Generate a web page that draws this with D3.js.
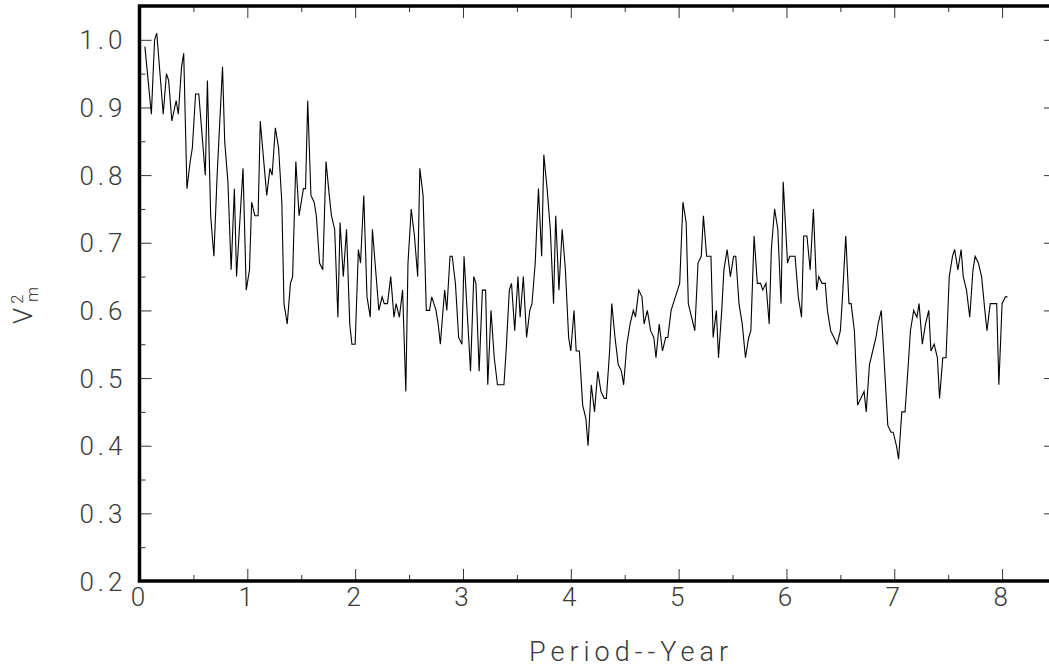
<!DOCTYPE html>
<html lang="en">
    <head>
        <meta charset="utf-8">
        <title>V2m by Period</title>
        <script src="https://d3js.org/d3.v7.min.js"></script>
        <style type="text/css">
        body { margin: 0; background: #fff; }

        .tick text {
            font-family: Roboto, "DejaVu Sans", sans-serif;
            font-weight: 300;
            font-size: 26px;
            letter-spacing: 4px;
            fill: #3a3a3a;
        }

        .tick line {
            stroke: #333;
            stroke-width: 1;
        }

        .domain { display: none; }

        .label {
            font-family: Roboto, "DejaVu Sans", sans-serif;
            font-weight: 300;
            fill: #3a3a3a;
        }
        </style>
    </head>
    <body>
    <div id="vis"></div>

    <script type="text/javascript">

        // period in years
        const years = [
            0.05, 0.11, 0.14, 0.16, 0.22, 0.25, 0.27, 0.30, 0.34, 0.36, 0.39, 0.41, 0.44, 0.47, 0.49,
            0.52, 0.55, 0.57, 0.61, 0.63, 0.66, 0.69, 0.72, 0.77, 0.79, 0.82, 0.85, 0.88, 0.90, 0.96,
            0.99, 1.02, 1.04, 1.07, 1.10, 1.12, 1.18, 1.21, 1.23, 1.26, 1.29, 1.32, 1.34, 1.37, 1.40,
            1.42, 1.45, 1.48, 1.52, 1.54, 1.56, 1.59, 1.62, 1.64, 1.67, 1.70, 1.73, 1.76, 1.78, 1.81,
            1.84, 1.86, 1.89, 1.92, 1.95, 1.97, 2.00, 2.03, 2.05, 2.08, 2.11, 2.14, 2.16, 2.22, 2.25,
            2.27, 2.30, 2.33, 2.36, 2.38, 2.41, 2.44, 2.47, 2.49, 2.52, 2.55, 2.58, 2.60, 2.63, 2.66,
            2.69, 2.71, 2.75, 2.77, 2.79, 2.83, 2.85, 2.88, 2.90, 2.93, 2.96, 2.99, 3.01, 3.07, 3.10,
            3.12, 3.15, 3.18, 3.21, 3.23, 3.26, 3.29, 3.32, 3.35, 3.38, 3.40, 3.43, 3.45, 3.48, 3.51,
            3.53, 3.56, 3.59, 3.62, 3.64, 3.67, 3.70, 3.73, 3.75, 3.78, 3.81, 3.84, 3.86, 3.89, 3.92,
            3.95, 3.98, 4.00, 4.03, 4.05, 4.08, 4.11, 4.14, 4.16, 4.19, 4.22, 4.25, 4.28, 4.31, 4.33,
            4.36, 4.38, 4.41, 4.44, 4.47, 4.49, 4.52, 4.55, 4.58, 4.60, 4.63, 4.66, 4.68, 4.71, 4.74,
            4.77, 4.79, 4.82, 4.85, 4.88, 4.90, 4.93, 4.95, 4.97, 5.01, 5.04, 5.07, 5.09, 5.12, 5.15,
            5.18, 5.21, 5.23, 5.26, 5.30, 5.32, 5.35, 5.37, 5.40, 5.42, 5.45, 5.48, 5.51, 5.53, 5.56,
            5.59, 5.62, 5.65, 5.67, 5.70, 5.73, 5.76, 5.78, 5.81, 5.84, 5.86, 5.89, 5.92, 5.95, 5.97,
            6.01, 6.03, 6.08, 6.11, 6.14, 6.16, 6.19, 6.22, 6.25, 6.28, 6.30, 6.33, 6.36, 6.38, 6.41,
            6.44, 6.47, 6.50, 6.52, 6.55, 6.58, 6.60, 6.63, 6.66, 6.69, 6.72, 6.74, 6.77, 6.80, 6.83,
            6.85, 6.88, 6.94, 6.97, 6.99, 7.02, 7.04, 7.07, 7.10, 7.13, 7.15, 7.18, 7.21, 7.23, 7.26,
            7.29, 7.32, 7.34, 7.37, 7.40, 7.42, 7.45, 7.48, 7.51, 7.54, 7.56, 7.59, 7.62, 7.64, 7.67,
            7.70, 7.73, 7.75, 7.78, 7.81, 7.84, 7.86, 7.89, 7.92, 7.95, 7.97, 8.00, 8.03, 8.05
        ];

        // V^2_m values
        const v2m = [
            0.99, 0.89, 1.00, 1.01, 0.89, 0.95, 0.94, 0.88, 0.91, 0.89, 0.96, 0.98, 0.78, 0.82, 0.84,
            0.92, 0.92, 0.88, 0.80, 0.94, 0.74, 0.68, 0.80, 0.96, 0.85, 0.79, 0.66, 0.78, 0.65, 0.81,
            0.63, 0.66, 0.76, 0.74, 0.74, 0.88, 0.77, 0.81, 0.80, 0.87, 0.84, 0.76, 0.61, 0.58, 0.64,
            0.65, 0.82, 0.74, 0.78, 0.78, 0.91, 0.77, 0.76, 0.74, 0.67, 0.66, 0.82, 0.77, 0.74, 0.72,
            0.59, 0.73, 0.65, 0.72, 0.58, 0.55, 0.55, 0.69, 0.67, 0.77, 0.62, 0.59, 0.72, 0.60, 0.62,
            0.61, 0.61, 0.65, 0.59, 0.61, 0.59, 0.63, 0.48, 0.67, 0.75, 0.71, 0.65, 0.81, 0.77, 0.60,
            0.60, 0.62, 0.60, 0.58, 0.55, 0.63, 0.60, 0.68, 0.68, 0.64, 0.56, 0.55, 0.68, 0.51, 0.65,
            0.64, 0.51, 0.63, 0.63, 0.49, 0.60, 0.53, 0.49, 0.49, 0.49, 0.54, 0.63, 0.64, 0.57, 0.65,
            0.59, 0.65, 0.56, 0.60, 0.61, 0.67, 0.78, 0.68, 0.83, 0.78, 0.72, 0.61, 0.74, 0.63, 0.72,
            0.66, 0.56, 0.54, 0.60, 0.54, 0.54, 0.46, 0.44, 0.40, 0.49, 0.45, 0.51, 0.48, 0.47, 0.47,
            0.54, 0.61, 0.56, 0.52, 0.51, 0.49, 0.55, 0.58, 0.60, 0.59, 0.63, 0.62, 0.58, 0.60, 0.57,
            0.56, 0.53, 0.58, 0.54, 0.56, 0.56, 0.60, 0.61, 0.62, 0.64, 0.76, 0.73, 0.61, 0.59, 0.57,
            0.67, 0.68, 0.74, 0.68, 0.68, 0.56, 0.60, 0.53, 0.60, 0.66, 0.69, 0.65, 0.68, 0.68, 0.61,
            0.58, 0.53, 0.56, 0.57, 0.71, 0.64, 0.64, 0.63, 0.64, 0.58, 0.69, 0.75, 0.72, 0.61, 0.79,
            0.67, 0.68, 0.68, 0.62, 0.59, 0.71, 0.71, 0.66, 0.75, 0.63, 0.65, 0.64, 0.64, 0.60, 0.57,
            0.56, 0.55, 0.57, 0.62, 0.71, 0.61, 0.61, 0.57, 0.46, 0.47, 0.48, 0.45, 0.52, 0.54, 0.56,
            0.58, 0.60, 0.43, 0.42, 0.42, 0.40, 0.38, 0.45, 0.45, 0.52, 0.57, 0.60, 0.59, 0.61, 0.55,
            0.58, 0.60, 0.54, 0.55, 0.53, 0.47, 0.53, 0.53, 0.65, 0.68, 0.69, 0.66, 0.69, 0.65, 0.63,
            0.59, 0.66, 0.68, 0.67, 0.65, 0.60, 0.57, 0.61, 0.61, 0.61, 0.49, 0.61, 0.62, 0.62
        ];

        const xTicks = [0, 1, 2, 3, 4, 5, 6, 7, 8];
        const xMinorTicks = [0.5, 1.5, 2.5, 3.5, 4.5, 5.5, 6.5, 7.5, 8.5];
        const yTicks = [0.2, 0.3, 0.4, 0.5, 0.6, 0.7, 0.8, 0.9, 1.0];
        const yMinorTicks = [0.25, 0.35, 0.45, 0.55, 0.65, 0.75, 0.85, 0.95];

        const width = 1049;
        const height = 671;
        const plotLeft = 139.5;
        const plotRight = 1056;   // right frame sits just past the window edge
        const plotTop = 6;
        const plotBottom = 581;

        const dataset = years.map((t, i) => ({ t: t, v: v2m[i] }));

        const xScale = d3.scaleLinear()
                         .domain([0, 8.5])
                         .range([plotLeft, plotRight]);

        const yScale = d3.scaleLinear()
                         .domain([0.2, 1.05])
                         .range([plotBottom, plotTop]);

        const svg = d3.select("#vis")
                      .append("svg")
                      .attr("width", width)
                      .attr("height", height);

        // minor ticks
        svg.append("g")
           .attr("transform", "translate(0," + plotBottom + ")")
           .call(d3.axisBottom(xScale).tickValues(xMinorTicks).tickSize(-6).tickSizeOuter(0).tickFormat(""));
        svg.append("g")
           .attr("transform", "translate(0," + plotTop + ")")
           .call(d3.axisTop(xScale).tickValues(xMinorTicks).tickSize(-6).tickSizeOuter(0).tickFormat(""));
        svg.append("g")
           .attr("transform", "translate(" + plotLeft + ",0)")
           .call(d3.axisLeft(yScale).tickValues(yMinorTicks).tickSize(-6).tickSizeOuter(0).tickFormat(""));
        svg.append("g")
           .attr("transform", "translate(" + plotRight + ",0)")
           .call(d3.axisRight(yScale).tickValues(yMinorTicks).tickSize(-6).tickSizeOuter(0).tickFormat(""));

        // major ticks + labels
        svg.append("g")
           .attr("transform", "translate(0," + plotBottom + ")")
           .call(d3.axisBottom(xScale).tickValues(xTicks).tickSize(-12).tickSizeOuter(0)
                   .tickPadding(16).tickFormat(d3.format("d")));
        svg.append("g")
           .attr("transform", "translate(0," + plotTop + ")")
           .call(d3.axisTop(xScale).tickValues(xTicks).tickSize(-12).tickSizeOuter(0).tickFormat(""));
        svg.append("g")
           .attr("transform", "translate(" + plotLeft + ",0)")
           .call(d3.axisLeft(yScale).tickValues(yTicks).tickSize(-12).tickSizeOuter(0)
                   .tickPadding(13).tickFormat(d3.format(".1f")));
        svg.append("g")
           .attr("transform", "translate(" + plotRight + ",0)")
           .call(d3.axisRight(yScale).tickValues(yTicks).tickSize(-12).tickSizeOuter(0).tickFormat(""));

        svg.selectAll(".tick text").attr("dy", null);
        svg.selectAll(".tick text").attr("dominant-baseline", "central");

        // heavy frame
        svg.append("rect")
           .attr("x", xScale(0))
           .attr("y", yScale(1.05))
           .attr("width", xScale(8.5) - xScale(0))
           .attr("height", yScale(0.2) - yScale(1.05))
           .attr("fill", "none")
           .attr("stroke", "#000")
           .attr("stroke-width", 3.5);

        const line = d3.line()
                       .x(d => xScale(d.t))
                       .y(d => yScale(d.v));

        svg.append("path")
           .datum(dataset)
           .attr("fill", "none")
           .attr("stroke", "#000")
           .attr("stroke-width", 1.1)
           .attr("d", line);

        // axis titles
        svg.append("text")
           .attr("class", "label")
           .attr("x", 631)
           .attr("y", 661)
           .attr("text-anchor", "middle")
           .attr("font-size", 27)
           .attr("letter-spacing", 5)
           .text("Period--Year");

        const yTitle = svg.append("g")
                          .attr("transform", "translate(32,324) rotate(-90)");
        yTitle.append("text")
              .attr("class", "label")
              .attr("x", 0)
              .attr("y", 0)
              .attr("font-size", 26)
              .text("V");
        yTitle.append("text")
              .attr("class", "label")
              .attr("x", 20)
              .attr("y", -9)
              .attr("font-size", 17)
              .text("2");
        yTitle.append("text")
              .attr("class", "label")
              .attr("x", 22)
              .attr("y", 6)
              .attr("font-size", 17)
              .text("m");

    </script>
    </body>
</html>
